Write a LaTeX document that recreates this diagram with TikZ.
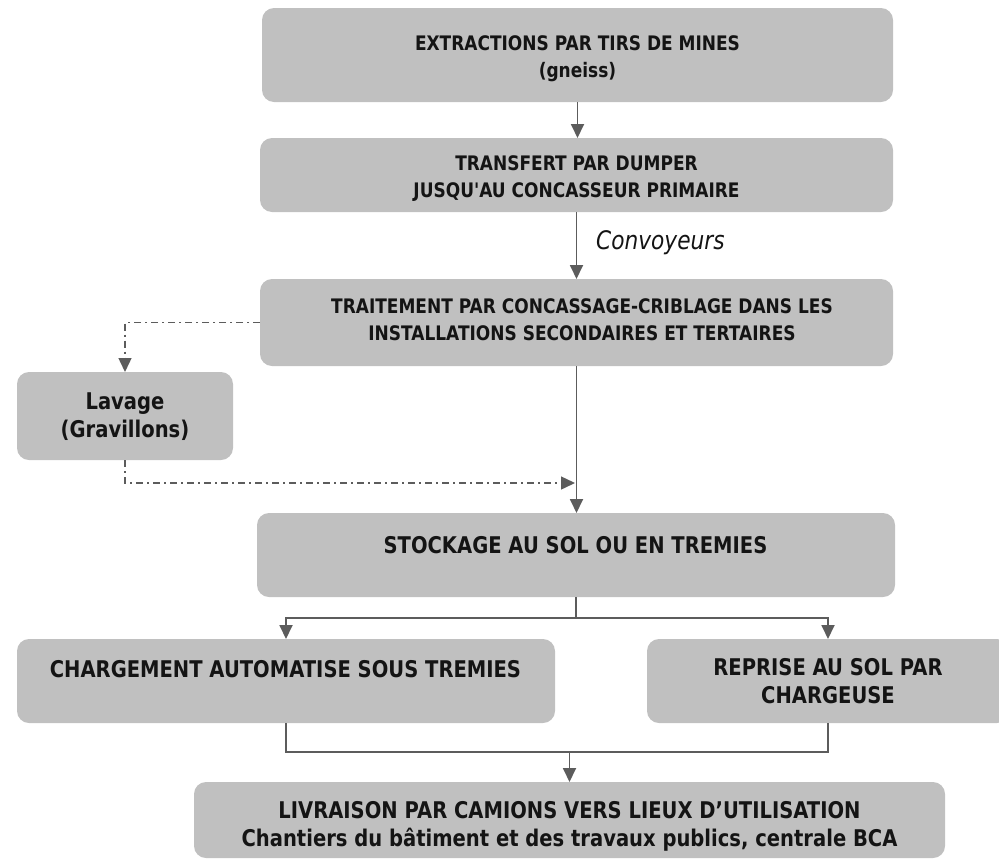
\documentclass[tikz,border=0pt]{standalone}
\usepackage{fontspec}
\setmainfont{DejaVu Sans}[FakeStretch=0.85, Ligatures=TeXOff]
\usetikzlibrary{arrows.meta}
\definecolor{boxgray}{RGB}{192,192,192}
\definecolor{linegray}{RGB}{92,92,92}
\definecolor{txt}{RGB}{20,20,20}
\begin{document}
\begin{tikzpicture}[x=1pt,y=-1pt,
  box/.style={fill=boxgray, draw=none, rounded corners=12pt, inner sep=0pt, outer sep=0pt},
  lblA/.style={font=\bfseries\fontsize{20}{27}\selectfont, text=txt, align=center, anchor=base, inner sep=0pt},
  lblB/.style={font=\bfseries\fontsize{23}{28}\selectfont, text=txt, align=center, anchor=base, inner sep=0pt},
  conv/.style={font=\itshape\fontsize{25.5}{30}\selectfont, text=txt, anchor=base west, inner sep=0pt},
  arr/.style={draw=linegray, line width=1.8pt, -{Triangle[width=13pt,length=14pt]}},
  ln/.style={draw=linegray, line width=1.3pt},
  dd/.style={draw=linegray, line width=1.4pt, dash pattern=on 7pt off 4pt on 2pt off 4pt, -{Triangle[width=13pt,length=14pt]}},
]
\useasboundingbox (0,0) rectangle (999,860);
% boxes
\node[box, minimum width=631pt, minimum height=94pt] (b1) at (577.5,55) {};
\node[box, minimum width=633pt, minimum height=74pt] (b2) at (576.5,175) {};
\node[box, minimum width=633pt, minimum height=87pt] (b3) at (576.5,322.5) {};
\node[box, minimum width=216pt, minimum height=88pt] (lav) at (125,416) {};
\node[box, minimum width=638pt, minimum height=84pt] (b4) at (576,555) {};
\node[box, minimum width=538pt, minimum height=84pt] (b5) at (286,681) {};
\node[box, minimum width=362pt, minimum height=84pt] (b6) at (828,681) {};
\node[box, minimum width=751pt, minimum height=76pt] (b7) at (569.5,820) {};
% texts (anchor = baseline of the last line)
\node[lblA] (t1) at (577.5,77) {EXTRACTIONS PAR TIRS DE MINES\\(gneiss)};
\node[lblA] (t2) at (576.5,197) {TRANSFERT PAR DUMPER\\JUSQU'AU CONCASSEUR PRIMAIRE};
\node[conv] (t3) at (596,249) {Convoyeurs};
\node[lblA] (t4) at (582,340) {TRAITEMENT PAR CONCASSAGE-CRIBLAGE DANS LES\\INSTALLATIONS SECONDAIRES ET TERTAIRES};
\node[lblB] (t5) at (125,437) {Lavage\\(Gravillons)};
\node[lblB] (t6) at (575.5,553) {STOCKAGE AU SOL OU EN TREMIES};
\node[lblB] (t7) at (285.5,677) {CHARGEMENT AUTOMATISE SOUS TREMIES};
\node[lblB] (t8) at (828,703) {REPRISE AU SOL PAR\\CHARGEUSE};
\node[lblB] (t9) at (569.5,846) {LIVRAISON PAR CAMIONS VERS LIEUX D’UTILISATION\\Chantiers du bâtiment et des travaux publics, centrale BCA};
% connectors
\draw[arr] (b1.south) -- (b1.south |- b2.north);
\draw[arr] (b2.south) -- (b3.north);
\draw[arr] (b3.south) -- (b3.south |- b4.north);
\draw[dd] (b3.west) -| (lav.north);
\coordinate (j) at (575,483);
\draw[dd] (lav.south) |- (j);
\coordinate (f) at (576,618);
\draw[ln] (b4.south) -- (f);
\draw[arr] (f) -| (b5.north);
\draw[arr] (f) -| (b6.north);
\coordinate (g) at (569.5,752);
\draw[ln] (b5.south) |- (g);
\draw[ln] (b6.south) |- (g);
\draw[arr] (g) -- (b7.north);
\end{tikzpicture}
\end{document}
